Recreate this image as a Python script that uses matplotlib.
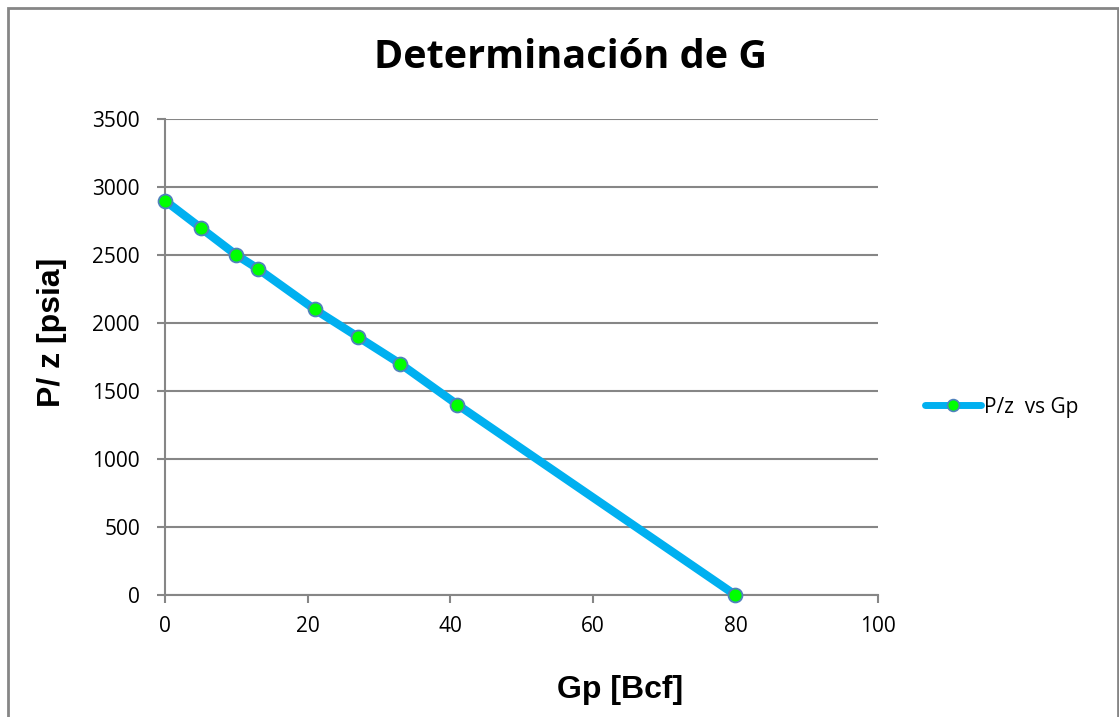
import matplotlib
matplotlib.use("Agg")
import matplotlib.pyplot as plt
from matplotlib.patches import Rectangle
from matplotlib.lines import Line2D

# Cumulative gas production vs P/z
gp_bcf = [0, 5, 10, 13, 21, 27, 33, 41, 80]
p_over_z = [2900, 2700, 2500, 2400, 2100, 1900, 1700, 1400, 0]
x_ticks = [0, 20, 40, 60, 80, 100]
y_ticks = [0, 500, 1000, 1500, 2000, 2500, 3000, 3500]

W, H = 1119, 717
fig = plt.figure(figsize=(W / 100, H / 100), dpi=100)
ax = fig.add_axes([165 / W, 1 - 595 / H, (878 - 165) / W, (595 - 119) / H])

line_color = "#00B0F0"
grid_color = "#868686"
marker_face = "#00FF00"
marker_edge = "#4F81BD"

ax.plot(gp_bcf, p_over_z, color=line_color, lw=6, marker="o", ms=10,
        mfc=marker_face, mec=marker_edge, mew=1.3, solid_capstyle="round",
        zorder=3, clip_on=False)

ax.set_xlim(0, 100)
ax.set_ylim(0, 3500)
ax.set_xticks(x_ticks)
ax.set_yticks(y_ticks)
ax.yaxis.grid(True, color=grid_color, lw=1.5)
ax.set_axisbelow(True)
for s in ["top", "right"]:
    ax.spines[s].set_visible(False)
for s in ["left", "bottom"]:
    ax.spines[s].set_color(grid_color)
    ax.spines[s].set_linewidth(1.5)
ax.tick_params(axis="both", direction="out", length=6, width=1.5, color=grid_color,
               labelsize=15)
ax.tick_params(axis="x", pad=9)
ax.tick_params(axis="y", pad=12)
for lab in ax.get_xticklabels() + ax.get_yticklabels():
    lab.set_fontfamily("Open Sans")

fig.text(620 / W, 1 - 690 / H, "Gp [Bcf]", ha="center", va="center",
         fontsize=23, fontweight="bold", family="Liberation Sans")
fig.text(52 / W, 1 - 332 / H, "P/ z [psia]", ha="center", va="center", rotation=90,
         fontsize=23, fontweight="bold", family="Liberation Sans")

fig.text(570 / W, 1 - 57 / H, "Determinación de G", ha="center", va="center",
         fontsize=28.5, fontweight="bold", family="Open Sans")

# Legend entry on the right
legend_handle = Line2D([], [], color=line_color, lw=5, marker="o", ms=8.5,
                       mfc=marker_face, mec=marker_edge, mew=1.2,
                       solid_capstyle="round")
fig.legend([legend_handle], ["P/z  vs Gp"], loc="center left",
           bbox_to_anchor=(925 / W, 1 - 407 / H), frameon=False,
           prop={"family": "Open Sans", "size": 15}, handlelength=2.7,
           handletextpad=0.15, borderpad=0, borderaxespad=0)

# Chart frame
fig.patches.append(Rectangle((8 / W, -0.02), (1118 - 8) / W, 1 - 7.5 / H + 0.02,
                             transform=fig.transFigure, fill=False,
                             edgecolor=grid_color, lw=2))

fig.savefig("out.png", dpi=100)
